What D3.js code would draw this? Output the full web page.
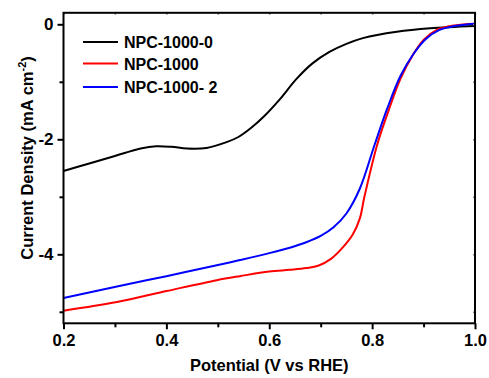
<!DOCTYPE html>
<html>
<head>
<meta charset="utf-8">
<script src="https://cdn.jsdelivr.net/npm/d3@7"></script>
<style>
  body { margin: 0; background: #fff; }
  text { font-family: "Liberation Sans", Arial, sans-serif; font-weight: bold; }
</style>
</head>
<body>
<div id="content"></div>
<script>
// LSV curves
const seriesNames = ["NPC-1000-0", "NPC-1000", "NPC-1000- 2"];
const seriesColors = ["#000000", "#ff0000", "#0000ff"];

const potential0 = [0.2, 0.25, 0.3, 0.35, 0.38, 0.41, 0.44, 0.478, 0.517, 0.54, 0.565, 0.59, 0.62, 0.653, 0.684, 0.717, 0.75, 0.782, 0.848, 0.913, 1.0];
const current0   = [-2.55, -2.42, -2.29, -2.16, -2.12, -2.13, -2.16, -2.15, -2.05, -1.96, -1.80, -1.60, -1.31, -0.95, -0.68, -0.48, -0.34, -0.24, -0.13, -0.07, -0.03];

const potential1 = [0.2, 0.304, 0.4, 0.498, 0.543, 0.6, 0.64, 0.672, 0.695, 0.72, 0.743, 0.762, 0.776, 0.785, 0.81, 0.832, 0.855, 0.878, 0.9, 0.925, 0.96, 1.0];
const current1   = [-4.98, -4.83, -4.64, -4.45, -4.38, -4.30, -4.27, -4.24, -4.2, -4.08, -3.88, -3.66, -3.38, -3.0, -2.09, -1.5, -0.95, -0.55, -0.27, -0.1, -0.02, 0.01];

const potential2 = [0.2, 0.304, 0.4, 0.498, 0.543, 0.6, 0.64, 0.672, 0.7, 0.725, 0.75, 0.776, 0.805, 0.83, 0.855, 0.88, 0.905, 0.93, 0.96, 1.0];
const current2   = [-4.76, -4.56, -4.38, -4.19, -4.1, -3.98, -3.885, -3.79, -3.68, -3.53, -3.29, -2.86, -2.09, -1.45, -0.9, -0.52, -0.25, -0.1, -0.03, 0.01];

const xTicks = [0.2, 0.4, 0.6, 0.8, 1.0];
const xMinor = [0.3, 0.5, 0.7, 0.9];
const yTicks = [0, -2, -4];
const yMinor = [-1, -3, -5];

const series = [
    { name: seriesNames[0], color: seriesColors[0], xs: potential0, ys: current0 },
    { name: seriesNames[1], color: seriesColors[1], xs: potential1, ys: current1 },
    { name: seriesNames[2], color: seriesColors[2], xs: potential2, ys: current2 }
];

//////////////////// drawing area
const W = 489, H = 378;
const margin = { left: 63.5, right: 14, top: 12.8, bottom: 54.7 };
const iW = W - margin.left - margin.right;
const iH = H - margin.top - margin.bottom;

const x = d3.scaleLinear().domain([0.2, 1.0]).range([0, iW]);
const y = d3.scaleLinear().domain([-5.2, 0.2]).range([iH, 0]);

const svg = d3.select("#content").append("svg")
    .attr("width", W).attr("height", H);

const g = svg.append("g")
    .attr("transform", "translate(" + margin.left + "," + margin.top + ")");

const line = d3.line()
    .x(d => x(d[0]))
    .y(d => y(d[1]))
    .curve(d3.curveCatmullRom.alpha(0.5));

// black first, then red, then blue on top
series.forEach(s => {
    g.append("path")
        .datum(s.xs.map((v, i) => [v, s.ys[i]]))
        .attr("d", line)
        .attr("fill", "none")
        .attr("stroke", s.color)
        .attr("stroke-width", 2);
});

//////////////////// axes
const styleAxis = (sel, fs) => {
    sel.select(".domain").remove();
    sel.selectAll("line").attr("stroke", "#000").attr("stroke-width", 2);
    sel.selectAll("text").attr("font-size", fs).attr("fill", "#000");
};

g.append("g")
    .attr("transform", "translate(0," + iH + ")")
    .call(d3.axisBottom(x).tickValues(xTicks).tickSize(6).tickPadding(5).tickFormat(d3.format(".1f")))
    .call(sel => styleAxis(sel, "16.5px"));

g.append("g")
    .attr("transform", "translate(0," + iH + ")")
    .call(d3.axisBottom(x).tickValues(xMinor).tickSize(4).tickFormat(""))
    .call(sel => styleAxis(sel, "16px"));

g.append("g")
    .call(d3.axisLeft(y).tickValues(yTicks).tickSize(6).tickPadding(4).tickFormat(d => String(d)))
    .call(sel => styleAxis(sel, "17px"));

g.append("g")
    .call(d3.axisLeft(y).tickValues(yMinor).tickSize(4).tickFormat(""))
    .call(sel => styleAxis(sel, "16px"));

// mirrored small ticks on top and right
g.append("g")
    .call(d3.axisTop(x).tickValues(xTicks.concat(xMinor)).tickSize(-2).tickFormat(""))
    .call(sel => { sel.select(".domain").remove(); sel.selectAll("line").attr("stroke", "#888").attr("stroke-width", 1.5); });

g.append("g")
    .attr("transform", "translate(" + iW + ",0)")
    .call(d3.axisRight(y).tickValues(yTicks.concat(yMinor)).tickSize(-2).tickFormat(""))
    .call(sel => { sel.select(".domain").remove(); sel.selectAll("line").attr("stroke", "#888").attr("stroke-width", 1.5); });

// frame
g.append("rect")
    .attr("width", iW).attr("height", iH)
    .attr("fill", "none")
    .attr("stroke", "#000")
    .attr("stroke-width", 2);

//////////////////// axis titles
svg.append("text")
    .attr("x", margin.left + iW / 2)
    .attr("y", 371)
    .attr("text-anchor", "middle")
    .attr("font-size", "16.5px")
    .text("Potential (V vs RHE)");

const yt = svg.append("text")
    .attr("transform", "translate(33,158) rotate(-90)")
    .attr("text-anchor", "middle")
    .attr("font-size", "16.5px");
yt.append("tspan").text("Current Density (mA cm");
yt.append("tspan").attr("dy", -7).attr("font-size", "11px").text("-2");
yt.append("tspan").attr("dy", 7).text(")");

//////////////////// legend
const legendY = [42, 63.5, 87];
const legend = svg.append("g");
series.forEach((s, i) => {
    legend.append("line")
        .attr("x1", 83).attr("x2", 118)
        .attr("y1", legendY[i]).attr("y2", legendY[i])
        .attr("stroke", s.color).attr("stroke-width", 2);
    legend.append("text")
        .attr("x", 124).attr("y", legendY[i] + 6)
        .attr("font-size", "16px")
        .text(s.name);
});
</script>
</body>
</html>
